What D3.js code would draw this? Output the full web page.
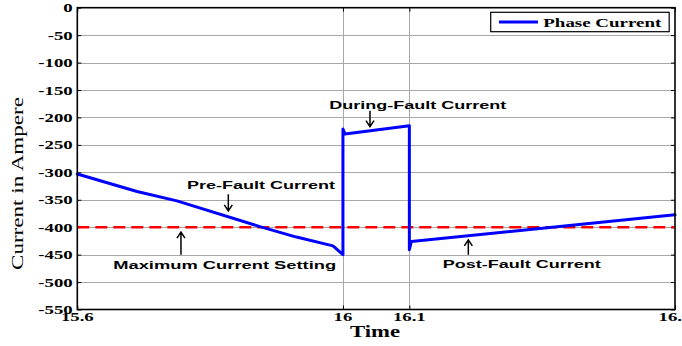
<!DOCTYPE html>
<html>
<head>
<meta charset="utf-8">
<script src="https://cdn.jsdelivr.net/npm/d3@7"></script>
<style>
  html, body { margin: 0; padding: 0; background: #fff; }
  svg { display: block; }
</style>
</head>
<body>
<svg id="chart" width="682" height="346"></svg>
<script>
// Phase current waveform (time in s, current in A)
const timeValues    = [15.6, 15.69, 15.75, 15.875, 15.93, 15.985, 16.0, 16.0, 16.003, 16.1, 16.1, 16.103, 16.5];
const currentValues = [-303, -335, -352, -399, -418, -434, -450, -221, -230, -215, -441, -426, -377.5];

// Maximum current setting
const settingValue = -400;

// Axis ticks
const xTickValues = [15.6, 16, 16.1, 16.5];
const xTickLabels = ["15.6", "16", "16.1", "16.5"];
const yTickValues = [0, -50, -100, -150, -200, -250, -300, -350, -400, -450, -500, -550];
const yTickLabels = ["0", "-50", "-100", "-150", "-200", "-250", "-300", "-350", "-400", "-450", "-500", "-550"];

// Annotation texts
const annotationTexts = ["During-Fault Current", "Pre-Fault Current", "Maximum Current Setting", "Post-Fault Current"];
const legendText = "Phase Current";
const xAxisTitle = "Time";
const yAxisTitle = "Current in Ampere";

const svg = d3.select("#chart");
const plot = { left: 77.3, right: 675, top: 7.7, bottom: 309.5 };

const x = d3.scaleLinear().domain([15.6, 16.5]).range([plot.left, plot.right]);
const y = d3.scaleLinear().domain([-550, 0]).range([plot.bottom, plot.top]);

const serif = "'Liberation Serif', 'Times New Roman', serif";
const sans = "'Liberation Sans', Arial, sans-serif";

// Stretch text horizontally by a factor, or to a given width
function stretch(sel, k) {
  sel.each(function () {
    const n = this.getComputedTextLength();
    d3.select(this).attr("textLength", n * k).attr("lengthAdjust", "spacingAndGlyphs");
  });
}
function fitWidth(sel, w) {
  sel.attr("textLength", w).attr("lengthAdjust", "spacingAndGlyphs");
}

// Grid lines
const grid = svg.append("g").attr("stroke", "#a8a8a8").attr("stroke-width", 1);
grid.selectAll("line.h").data(yTickValues.slice(1, -1)).join("line")
  .attr("x1", plot.left).attr("x2", plot.right)
  .attr("y1", d => Math.round(y(d)) + 0.5).attr("y2", d => Math.round(y(d)) + 0.5);
grid.selectAll("line.v").data(xTickValues.slice(1, -1)).join("line")
  .attr("y1", plot.top).attr("y2", plot.bottom)
  .attr("x1", d => Math.round(x(d)) + 0.5).attr("x2", d => Math.round(x(d)) + 0.5);

// Inward ticks on all four sides
const tickLen = 4;
const axisG = svg.append("g");
axisG.append("g").attr("transform", `translate(0,${plot.bottom})`)
  .call(d3.axisTop(x).tickValues(xTickValues).tickSize(tickLen).tickFormat(""))
  .call(g => g.select(".domain").remove());
axisG.append("g").attr("transform", `translate(0,${plot.top})`)
  .call(d3.axisBottom(x).tickValues(xTickValues).tickSize(tickLen).tickFormat(""))
  .call(g => g.select(".domain").remove());
axisG.append("g").attr("transform", `translate(${plot.left},0)`)
  .call(d3.axisRight(y).tickValues(yTickValues).tickSize(tickLen).tickFormat(""))
  .call(g => g.select(".domain").remove());
axisG.append("g").attr("transform", `translate(${plot.right},0)`)
  .call(d3.axisLeft(y).tickValues(yTickValues).tickSize(tickLen).tickFormat(""))
  .call(g => g.select(".domain").remove());
axisG.selectAll(".tick line").attr("stroke", "#000").attr("stroke-width", 1);

// Y tick labels
svg.append("g").selectAll("text").data(yTickValues).join("text")
  .attr("x", 72.7).attr("y", d => y(d)).attr("dy", "0.36em")
  .attr("text-anchor", "end")
  .attr("font-family", serif).attr("font-weight", "bold").attr("font-size", 12.5)
  .text((d, i) => yTickLabels[i])
  .call(stretch, 1.5);

// X tick labels
svg.append("g").selectAll("text").data(xTickValues).join("text")
  .attr("x", d => x(d)).attr("y", 321)
  .attr("text-anchor", "middle")
  .attr("font-family", serif).attr("font-weight", "bold").attr("font-size", 12.5)
  .text((d, i) => xTickLabels[i])
  .call(stretch, 1.5);

// Axis titles
svg.append("text")
  .attr("x", 375).attr("y", 337).attr("text-anchor", "middle")
  .attr("font-family", serif).attr("font-weight", "bold").attr("font-size", 16)
  .text(xAxisTitle).call(fitWidth, 50);

svg.append("text")
  .attr("transform", "translate(23,183.5) rotate(-90)")
  .attr("text-anchor", "middle")
  .attr("font-family", serif).attr("font-size", 17.5)
  .text(yAxisTitle).call(fitWidth, 173);

// Maximum current setting line
svg.append("line")
  .attr("x1", plot.left).attr("x2", plot.right)
  .attr("y1", y(settingValue)).attr("y2", y(settingValue))
  .attr("stroke", "#ff0000").attr("stroke-width", 2.6)
  .attr("stroke-dasharray", "12,6");

// Phase current line
const series = timeValues.map((t, i) => [t, currentValues[i]]);
svg.append("path")
  .datum(series)
  .attr("fill", "none").attr("stroke", "#0000ff").attr("stroke-width", 3)
  .attr("stroke-linejoin", "round").attr("stroke-linecap", "round")
  .attr("d", d3.line().x(d => x(d[0])).y(d => y(d[1])));

// Plot frame
svg.append("rect")
  .attr("x", plot.left).attr("y", plot.top)
  .attr("width", plot.right - plot.left).attr("height", plot.bottom - plot.top)
  .attr("fill", "none").attr("stroke", "#000").attr("stroke-width", 1.6);

// Annotations: label position, width and arrow (tail -> tip), in data units
const annotationLayout = [
  { t: 16.1126, v: -184.5, w: 177, arrow: [16.0407, -187.6, -216.7] },
  { t: 15.8766, v: -330.2, w: 148, arrow: [15.8274, -339.8, -370.2] },
  { t: 15.822,  v: -476.4, w: 223, arrow: [15.7561, -450.4, -409.0] },
  { t: 16.2692, v: -474.6, w: 158, arrow: [16.1888, -450.4, -423.0] }
];
const ann = svg.append("g");
annotationLayout.forEach((a, i) => {
  ann.append("text")
    .attr("x", x(a.t)).attr("y", y(a.v)).attr("text-anchor", "middle")
    .attr("font-family", sans).attr("font-weight", "bold").attr("font-size", 11)
    .attr("fill", "#000")
    .text(annotationTexts[i]).call(fitWidth, a.w);
  const ax = x(a.arrow[0]), y0 = y(a.arrow[1]), y1 = y(a.arrow[2]);
  const dir = y1 > y0 ? -1 : 1;
  const head = 6;
  ann.append("path")
    .attr("d", `M${ax},${y0}L${ax},${y1}M${ax - 4},${y1 + dir * head}L${ax},${y1}L${ax + 4},${y1 + dir * head}`)
    .attr("fill", "none").attr("stroke", "#000").attr("stroke-width", 1.5);
});

// Legend
const legend = svg.append("g");
legend.append("rect")
  .attr("x", 490.7).attr("y", 12.3).attr("width", 178.5).attr("height", 19.4)
  .attr("fill", "#fff").attr("stroke", "#000").attr("stroke-width", 1.2);
legend.append("line")
  .attr("x1", 499).attr("x2", 538).attr("y1", 22).attr("y2", 22)
  .attr("stroke", "#0000ff").attr("stroke-width", 3);
legend.append("text")
  .attr("x", 543.3).attr("y", 26.5)
  .attr("font-family", serif).attr("font-weight", "bold").attr("font-size", 13)
  .text(legendText).call(fitWidth, 118);
</script>
</body>
</html>
